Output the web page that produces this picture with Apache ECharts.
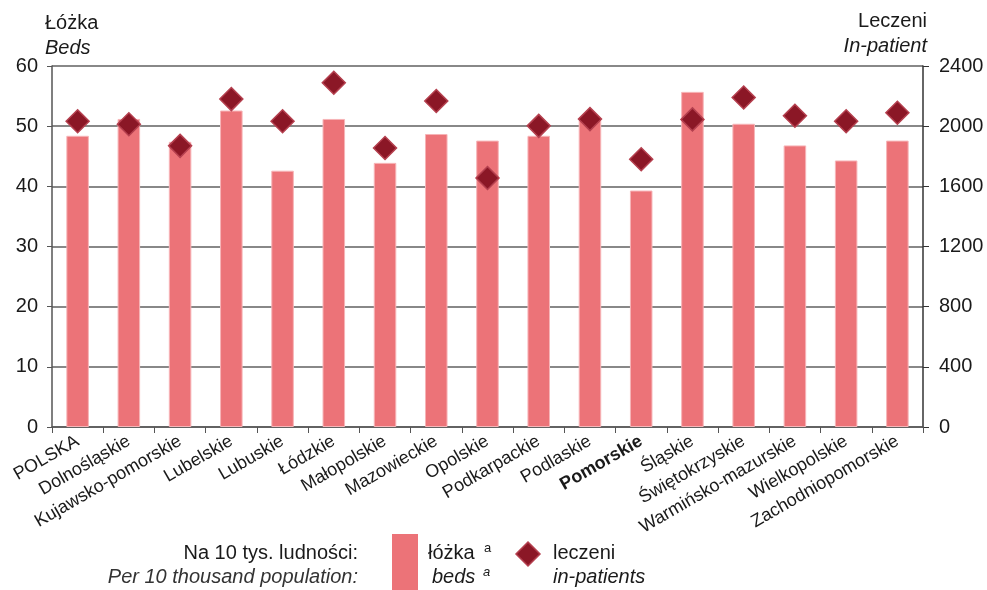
<!DOCTYPE html>
<html>
<head>
<meta charset="utf-8">
<script src="https://cdn.jsdelivr.net/npm/echarts@6/dist/echarts.min.js"></script>
<style>
  html, body { margin: 0; padding: 0; background: #fff; }
  #chart { width: 987px; height: 590px; }
</style>
</head>
<body>
<div id="chart"></div>
<script>
const regions = ['POLSKA', 'Dolnośląskie', 'Kujawsko-pomorskie', 'Lubelskie', 'Lubuskie', 'Łódzkie',
  'Małopolskie', 'Mazowieckie', 'Opolskie', 'Podkarpackie', 'Podlaskie', 'Pomorskie', 'Śląskie',
  'Świętokrzyskie', 'Warmińsko-mazurskie', 'Wielkopolskie', 'Zachodniopomorskie']
const beds = [48.4, 51.2, 47.4, 52.6, 42.6, 51.2, 43.9, 48.7, 47.6, 48.4, 51.0, 39.3, 55.7, 50.4, 46.8, 44.3, 47.6]
const patients = [2033, 2013, 1869, 2180, 2033, 2289, 1855, 2167, 1655, 2002, 2047, 1780, 2045, 2191, 2069, 2033, 2089]

const FONT = 'Liberation Sans, Arial, sans-serif'
const TXT = '#1a1a1a'
const BAR = '#ec7378'
const DIA = '#8b1726'

const chart = echarts.init(document.getElementById('chart'))

const option = {
  animation: false,
  textStyle: { fontFamily: FONT },
  grid: { left: 52, right: 64, top: 66, bottom: 163 },
  xAxis: {
    type: 'category',
    data: regions,
    axisLine: { lineStyle: { color: '#555', width: 1.5 } },
    axisTick: { show: true, length: 6, lineStyle: { color: '#555' } },
    axisLabel: {
      interval: 0,
      rotate: 30,
      margin: 13,
      fontSize: 18,
      color: TXT,
      fontFamily: FONT,
      formatter: v => v === 'Pomorskie' ? '{b|' + v + '}' : v,
      rich: { b: { fontWeight: 'bold', fontSize: 18, color: TXT, fontFamily: FONT } }
    }
  },
  yAxis: [
    {
      type: 'value', min: 0, max: 60, interval: 10,
      axisLine: { show: true, lineStyle: { color: '#555', width: 1.5 } },
      axisTick: { show: true, length: 5, lineStyle: { color: '#555' } },
      splitLine: { lineStyle: { color: '#888', width: 2 } },
      axisLabel: { fontSize: 20, color: TXT, margin: 14, fontFamily: FONT }
    },
    {
      type: 'value', min: 0, max: 2400, interval: 400,
      position: 'right',
      axisLine: { show: true, lineStyle: { color: '#333', width: 1.5 } },
      axisTick: { show: true, length: 6, lineStyle: { color: '#333' } },
      splitLine: { show: false },
      axisLabel: { fontSize: 20, color: TXT, margin: 16, fontFamily: FONT, formatter: v => String(v) }
    }
  ],
  series: [
    {
      name: 'łóżka',
      type: 'bar',
      data: beds,
      barWidth: '44%',
      itemStyle: { color: BAR, borderColor: '#f7b5b8', borderWidth: 1 }
    },
    {
      name: 'leczeni',
      type: 'scatter',
      yAxisIndex: 1,
      data: patients,
      symbol: 'diamond',
      symbolSize: [23, 23],
      itemStyle: { color: DIA, borderColor: '#b5404f', borderWidth: 1.5, opacity: 1 },
      z: 5
    }
  ],
  graphic: [
    { type: 'text', left: 45, top: 13, style: { text: 'Łóżka', font: '20px ' + FONT, fill: TXT } },
    { type: 'text', left: 45, top: 38, style: { text: 'Beds', font: 'italic 20px ' + FONT, fill: TXT } },
    { type: 'text', right: 60, top: 11, style: { text: 'Leczeni', font: '20px ' + FONT, fill: TXT, textAlign: 'right' } },
    { type: 'text', right: 60, top: 36, style: { text: 'In-patient', font: 'italic 20px ' + FONT, fill: TXT, textAlign: 'right' } },
    { type: 'text', right: 629, top: 543, style: { text: 'Na 10 tys. ludności:', font: '20px ' + FONT, fill: TXT, textAlign: 'right' } },
    { type: 'text', right: 629, top: 567, style: { text: 'Per 10 thousand population:', font: 'italic 20px ' + FONT, fill: '#333', textAlign: 'right' } },
    { type: 'rect', shape: { x: 392, y: 534, width: 26, height: 56 }, style: { fill: BAR } },
    { type: 'text', left: 428, top: 543, style: { text: 'łóżka', font: '20px ' + FONT, fill: TXT } },
    { type: 'text', left: 484, top: 542, style: { text: 'a', font: '13px ' + FONT, fill: TXT } },
    { type: 'text', left: 432, top: 567, style: { text: 'beds', font: 'italic 20px ' + FONT, fill: TXT } },
    { type: 'text', left: 483, top: 566, style: { text: 'a', font: 'italic 13px ' + FONT, fill: TXT } },
    { type: 'polygon', shape: { points: [[528, 542], [540, 554], [528, 566], [516, 554]] }, style: { fill: DIA, stroke: '#b5404f', lineWidth: 1.5 } },
    { type: 'text', left: 553, top: 543, style: { text: 'leczeni', font: '20px ' + FONT, fill: TXT } },
    { type: 'text', left: 553, top: 567, style: { text: 'in-patients', font: 'italic 20px ' + FONT, fill: TXT } }
  ]
}

chart.setOption(option)
</script>
</body>
</html>
